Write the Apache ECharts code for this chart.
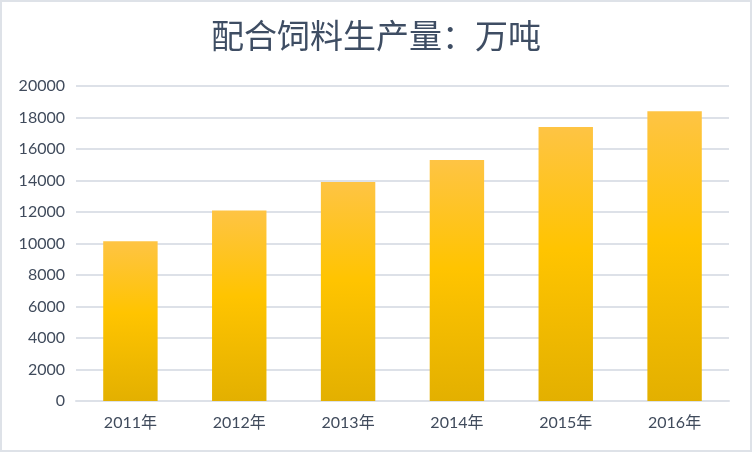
<!DOCTYPE html>
<html>
<head>
<meta charset="utf-8">
<script src="https://cdn.jsdelivr.net/npm/echarts@6/dist/echarts.min.js"></script>
<style>
html,body{margin:0;padding:0;background:#fff;}
#wrap{position:absolute;left:0;top:0;width:748px;height:448px;border:2px solid #DEE2E8;}
#chart{width:748px;height:448px;}
</style>
</head>
<body>
<div id="wrap"><div id="chart"></div></div>
<script>
const titleText = '配合饲料生产量：万吨';
const categories = ['2011年','2012年','2013年','2014年','2015年','2016年'];
const values = [10150, 12100, 13900, 15300, 17400, 18400];
const yMin = 0, yMax = 20000, yInterval = 2000;

const chart = echarts.init(document.getElementById('chart'));
chart.setOption({
  animation: false,
  backgroundColor: '#ffffff',
  title: {
    text: titleText,
    left: 'center',
    top: 12,
    textStyle: {
      fontFamily: '"Noto Sans CJK SC", sans-serif',
      fontSize: 33,
      fontWeight: 'normal',
      color: '#3E4D63'
    }
  },
  grid: { left: 74, right: 21, top: 84, bottom: 49 },
  xAxis: {
    type: 'category',
    data: categories,
    axisLine: { show: true, lineStyle: { color: '#DDE1E8', width: 2 } },
    axisTick: { show: false },
    axisLabel: {
      margin: 14,
      fontSize: 16,
      color: '#404B5C',
      fontFamily: 'Lato, "Noto Sans CJK SC", sans-serif'
    }
  },
  yAxis: {
    type: 'value',
    min: yMin, max: yMax, interval: yInterval,
    axisLine: { show: false },
    axisTick: { show: false },
    splitLine: { lineStyle: { color: '#DDE1E8', width: 2 } },
    axisLabel: {
      margin: 11,
      fontSize: 16,
      color: '#404B5C',
      fontFamily: 'Lato, sans-serif',
      formatter: function (v) { return String(v); }
    }
  },
  series: [{
    type: 'bar',
    data: values,
    barWidth: '50%',
    itemStyle: {
      color: new echarts.graphic.LinearGradient(0, 0, 0, 1, [
        { offset: 0, color: '#FEC444' },
        { offset: 0.45, color: '#FFC400' },
        { offset: 1, color: '#E3B000' }
      ])
    }
  }]
});
</script>
</body>
</html>
